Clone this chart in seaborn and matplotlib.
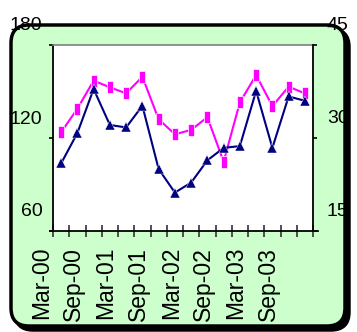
import numpy as np
import pandas as pd
import matplotlib
matplotlib.use("Agg")
import matplotlib.pyplot as plt
import seaborn as sns
from matplotlib.patches import FancyBboxPatch
from matplotlib.transforms import ScaledTranslation, IdentityTransform

# Quarterly series, Mar-00 .. Dec-03
quarters = ["Mar-00", "Jun-00", "Sep-00", "Dec-00",
            "Mar-01", "Jun-01", "Sep-01", "Dec-01",
            "Mar-02", "Jun-02", "Sep-02", "Dec-02",
            "Mar-03", "Jun-03", "Sep-03", "Dec-03"]
left_values = [123.7, 138.9, 157.0, 152.7, 148.8, 159.5, 132.1, 122.4,
               125.2, 133.4, 104.7, 143.0, 160.6, 140.6, 153.1, 148.8]
right_values = [25.9, 30.8, 37.9, 32.1, 31.7, 35.2, 25.0, 21.2,
                22.8, 26.4, 28.4, 28.7, 37.6, 28.4, 36.7, 36.0]
left_ticks = [60, 120, 180]
right_ticks = [15, 30, 45]
label_positions = list(range(0, 16, 2))
label_texts = [quarters[i] for i in label_positions]

plt.rcParams["font.family"] = ["Liberation Sans", "DejaVu Sans"]

W, H = 357, 332
fig = plt.figure(figsize=(W / 100, H / 100), dpi=100, facecolor="white")

# Rounded green panel with a drop shadow (display pixel coordinates)
def panel(x0, y0_top, x1, y1_bottom, **kw):
    return FancyBboxPatch((x0, H - y1_bottom), x1 - x0, y1_bottom - y0_top,
                          boxstyle="round,pad=0,rounding_size=18",
                          transform=IdentityTransform(), zorder=-2, **kw)

fig.patches.append(panel(15, 29, 349, 330, facecolor="black",
                         edgecolor="black", linewidth=2.5))
fig.patches.append(panel(11, 25, 345, 326, facecolor="#CCFFCC",
                         edgecolor="black", linewidth=2.5))

ax = fig.add_axes([53 / W, (H - 231) / H, 260 / W, 186 / H])
ax.set_facecolor("white")
ax2 = ax.twinx()

df = pd.DataFrame({"pos": np.arange(len(quarters)), "quarter": quarters,
                   "left": left_values, "right": right_values})

rect_marker = [(-0.55, -1), (0.55, -1), (0.55, 1), (-0.55, 1), (-0.55, -1)]
sns.lineplot(data=df, x="pos", y="left", ax=ax, color="#FF00FF",
             linewidth=1.5, marker=rect_marker, markersize=9,
             markeredgecolor="white", markeredgewidth=0.5)
sns.lineplot(data=df, x="pos", y="right", ax=ax2, color="#000080",
             linewidth=1.5, marker="^", markersize=7,
             markeredgecolor="white", markeredgewidth=0.3)

ax.set_xlim(-0.5, 15.5)
ax.set_ylim(60, 180)
ax2.set_ylim(15, 45)
ax.set_xlabel("")
ax.set_ylabel("")
ax2.set_ylabel("")

# Spines
for s in ["top", "right", "left", "bottom"]:
    ax2.spines[s].set_visible(s == "right")
ax.spines["right"].set_visible(False)
ax.spines["top"].set_color("#808080")
ax.spines["top"].set_linewidth(1.2)
for s in ["left", "bottom"]:
    ax.spines[s].set_color("black")
    ax.spines[s].set_linewidth(1.3)
ax2.spines["right"].set_color("black")
ax2.spines["right"].set_linewidth(1.3)
ax.spines["bottom"].set_bounds(-0.7, 15.8)

# X axis: ticks at quarter boundaries, labels every other quarter
ax.set_xticks(np.arange(-0.5, 16, 1))
ax.set_xticklabels([])
ax.tick_params(axis="x", which="major", direction="inout", length=9,
               width=1.2, color="#333333")
ax.set_xticks(label_positions, minor=True)
ax.set_xticklabels(label_texts, minor=True, rotation=90, fontsize=16.5)
ax.tick_params(axis="x", which="minor", length=0, pad=11.5)

# Y axes
ax.set_yticks(left_ticks)
ax.set_yticklabels([str(v) for v in left_ticks], fontsize=14)
ax.tick_params(axis="y", direction="out", length=3, width=1.2, pad=4.5)
ax2.set_yticks(right_ticks)
ax2.set_yticklabels([str(v) for v in right_ticks], fontsize=14)
ax2.tick_params(axis="y", direction="out", length=3, width=1.2, pad=7)

# Shift tick labels off their ticks
shift_x = ScaledTranslation(-0.20, 0, fig.dpi_scale_trans)
shift_y = ScaledTranslation(0, 0.21, fig.dpi_scale_trans)
for lab in ax.get_xticklabels(minor=True):
    lab.set_transform(lab.get_transform() + shift_x)
for lab in ax.get_yticklabels() + ax2.get_yticklabels():
    lab.set_transform(lab.get_transform() + shift_y)

if ax.get_legend():
    ax.get_legend().remove()

fig.savefig("out.png", dpi=100, facecolor="white")
